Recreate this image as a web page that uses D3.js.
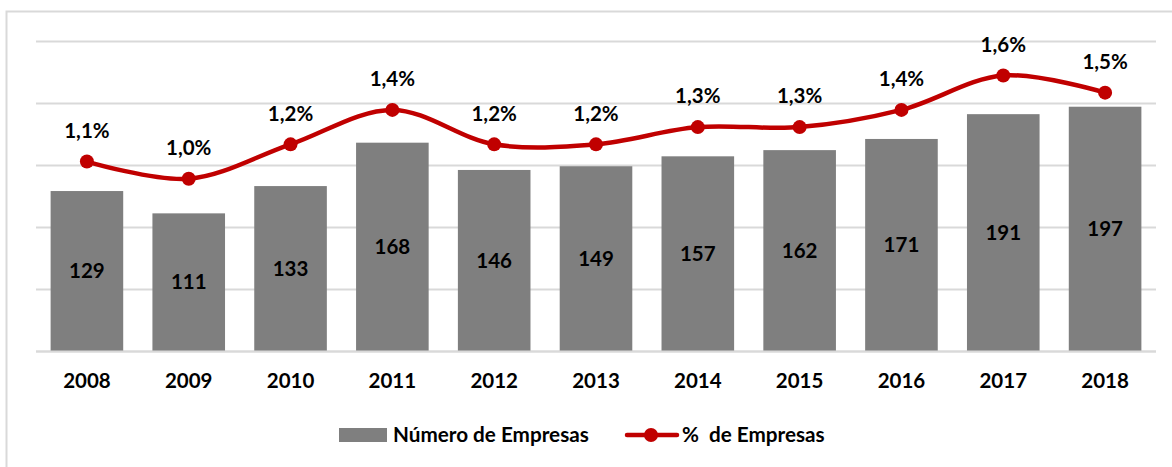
<!DOCTYPE html>
<html>
<head>
<meta charset="utf-8">
<script src="https://cdn.jsdelivr.net/npm/d3@7"></script>
<style>
  body { margin: 0; background: #fff; }
  text { font-family: Lato, "Open Sans", sans-serif; font-weight: bold; fill: #000; }
</style>
</head>
<body>
<svg width="1172" height="467"></svg>
<script>
const years = ["2008", "2009", "2010", "2011", "2012", "2013", "2014", "2015", "2016", "2017", "2018"];
const empresas = [129, 111, 133, 168, 146, 149, 157, 162, 171, 191, 197];
const pctEmpresas = [1.1, 1.0, 1.2, 1.4, 1.2, 1.2, 1.3, 1.3, 1.4, 1.6, 1.5];
const gridTicks = [0, 50, 100, 150, 200, 250];

const barColor = "#7f7f7f";
const lineColor = "#c00000";

const svg = d3.select("svg");

// chart border (runs off right/bottom like the screenshot)
svg.append("rect")
  .attr("x", 6.5).attr("y", 11.5)
  .attr("width", 1200).attr("height", 500)
  .style("fill", "none")
  .style("stroke", "#d9d9d9")
  .style("stroke-width", 2);

const plotLeft = 36, plotRight = 1156, plotTop = 41, plotBottom = 351;

const x = d3.scaleBand()
  .domain(years)
  .range([plotLeft, plotRight])
  .paddingInner(0.287)
  .paddingOuter(0.1435);

const y = d3.scaleLinear().domain([0, 250]).range([plotBottom, plotTop]);
const y2 = d3.scaleLinear().domain([0, 1.8]).range([plotBottom, plotTop]);

// gridlines
svg.append("g")
  .selectAll("line")
  .data(gridTicks)
  .join("line")
  .attr("x1", plotLeft).attr("x2", plotRight)
  .attr("y1", (d) => Math.round(y(d)) + 0.5)
  .attr("y2", (d) => Math.round(y(d)) + 0.5)
  .style("stroke", "#d9d9d9")
  .style("stroke-width", 2);

// bars
svg.append("g")
  .selectAll("rect")
  .data(empresas)
  .join("rect")
  .attr("x", (d, i) => x(years[i]))
  .attr("y", (d) => y(d))
  .attr("width", x.bandwidth())
  .attr("height", (d) => y(0) - y(d))
  .style("fill", barColor);

// baseline on top of bars
svg.append("line")
  .attr("x1", plotLeft).attr("x2", plotRight)
  .attr("y1", y(0) + 0.5).attr("y2", y(0) + 0.5)
  .style("stroke", "#d9d9d9")
  .style("stroke-width", 2);

// bar value labels
svg.append("g")
  .selectAll("text")
  .data(empresas)
  .join("text")
  .attr("x", (d, i) => x(years[i]) + x.bandwidth() / 2)
  .attr("y", (d) => (y(d) + y(0)) / 2)
  .attr("dy", "0.35em")
  .attr("text-anchor", "middle")
  .style("font-size", "20.5px")
  .text((d) => d);

// x axis labels
svg.append("g")
  .selectAll("text")
  .data(years)
  .join("text")
  .attr("x", (d) => x(d) + x.bandwidth() / 2)
  .attr("y", 381)
  .attr("dy", "0.35em")
  .attr("text-anchor", "middle")
  .style("font-size", "20.5px")
  .text((d) => d);

// percentage line
const cx = (i) => x(years[i]) + x.bandwidth() / 2;
const line = d3.line()
  .x((d, i) => cx(i))
  .y((d) => y2(d))
  .curve(d3.curveCatmullRom.alpha(0.5));

svg.append("path")
  .datum(pctEmpresas)
  .attr("d", line)
  .style("fill", "none")
  .style("stroke", lineColor)
  .style("stroke-width", 4.5)
  .style("stroke-linecap", "round");

svg.append("g")
  .selectAll("circle")
  .data(pctEmpresas)
  .join("circle")
  .attr("cx", (d, i) => cx(i))
  .attr("cy", (d) => y2(d))
  .attr("r", 7)
  .style("fill", lineColor);

const pctFormat = (v) => d3.format(".1f")(v).replace(".", ",") + "%";
svg.append("g")
  .selectAll("text")
  .data(pctEmpresas)
  .join("text")
  .attr("x", (d, i) => cx(i))
  .attr("y", (d) => y2(d) - 31)
  .attr("dy", "0.35em")
  .attr("text-anchor", "middle")
  .style("font-size", "20.5px")
  .text(pctFormat);

// legend
const legend = svg.append("g").attr("transform", "translate(0, 435)");
legend.append("rect")
  .attr("x", 339).attr("y", -7)
  .attr("width", 48).attr("height", 14)
  .style("fill", barColor);
legend.append("text")
  .attr("x", 393).attr("y", 0).attr("dy", "0.35em")
  .style("font-size", "20.7px")
  .text("Número de Empresas");
legend.append("line")
  .attr("x1", 627).attr("x2", 677)
  .attr("y1", 0).attr("y2", 0)
  .style("stroke", lineColor)
  .style("stroke-width", 4.5)
  .style("stroke-linecap", "round");
legend.append("circle")
  .attr("cx", 651).attr("cy", 0).attr("r", 7)
  .style("fill", lineColor);
legend.append("text")
  .attr("x", 682).attr("y", 0).attr("dy", "0.35em")
  .style("font-size", "20.7px")
  .style("white-space", "pre")
  .text("%  de Empresas");
</script>
</body>
</html>
